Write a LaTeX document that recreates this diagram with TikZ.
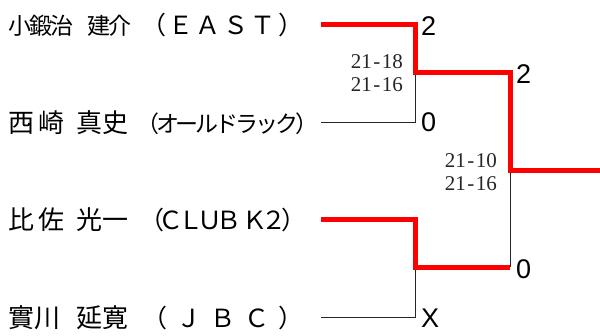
\documentclass[tikz,border=0pt]{standalone}
\usepackage{fontspec}
\setmainfont{Liberation Serif}
\newfontfamily\jp{Noto Sans CJK JP}
\newfontfamily\scorefont{Liberation Sans}
\newcommand\bigname{\fontsize{26}{28}\selectfont}
\newcommand\affl{\fontsize{25}{28}\selectfont}
\newcommand\affk{\fontsize{23}{28}\selectfont}
\begin{document}
\begin{tikzpicture}[x=1pt,y=-1pt,
  namestyle/.style={anchor=base west, inner sep=0pt, font=\jp\fontsize{23}{26}\selectfont},
  scorestyle/.style={anchor=base west, inner sep=0pt, font=\scorefont\fontsize{27}{30}\selectfont},
  setstyle/.style={anchor=base east, inner sep=0pt, font=\fontsize{21}{23}\selectfont, text=black!85},
  loser/.style={draw=black!85, line width=1pt},
  winner/.style={draw=red, line width=5pt, line join=miter}]
\useasboundingbox (0,0) rectangle (600,335);
\fill[white] (0,0) rectangle (600,335);

% players
\node[namestyle] (n1) at (8,34.5) {\hbox to 65pt{小\hss 鍛\hss 治}\kern14pt\hbox to 44pt{建\hss 介}\kern10pt\hbox to 162pt{\affl（\hss Ｅ\hss Ａ\hss Ｓ\hss Ｔ\hss ）}};
\node[namestyle] (n2) at (8,132) {\hbox to 56pt{\bigname 西\hss 崎}\kern12pt\hbox to 52pt{\bigname 真\hss 史}\kern8pt\hbox to 182pt{\affk（\hss オ\hss ー\hss ル\hss ド\hss ラ\hss ッ\hss ク\hss ）}};
\node[namestyle] (n3) at (8,229) {\hbox to 56pt{\bigname 比\hss 佐}\kern12pt\hbox to 52pt{\bigname 光\hss 一}\kern11pt\hbox to 167pt{\affl（\hss Ｃ\hss Ｌ\hss Ｕ\hss Ｂ\hss\kern6pt Ｋ\hss ２\hss ）}};
\node[namestyle] (n4) at (8,327) {\hbox to 52pt{\bigname 實\hss 川}\kern16pt\hbox to 52pt{\bigname 延\hss 寛}\kern14pt\hbox to 161pt{\affl（\hss Ｊ\hss Ｂ\hss Ｃ\hss ）}};

% bracket points
\coordinate (a1) at (321,24);
\coordinate (a2) at (321,122);
\coordinate (a3) at (321,219);
\coordinate (a4) at (321,317);
\coordinate (b1) at (415,24);
\coordinate (b2) at (415,122);
\coordinate (b3) at (415,219);
\coordinate (b4) at (415,317);
\coordinate (m1) at (415,72);
\coordinate (m2) at (415,267);
\coordinate (c1) at (510,72);
\coordinate (c2) at (510,267);
\coordinate (f) at (510,170);
\coordinate (out) at (600,170);

% losing lines
\draw[loser] (a2) -- (b2) -- (m1);
\draw[loser] (a4) -- (b4) -- (m2);
\draw[loser] (c2) -- (f);

% winning lines
\draw[winner] (a1) -- (b1) -- (m1) -- (c1) -- (f) -- (out);
\draw[winner] (a3) -- (b3) -- (m2) -- (c2);

% scores
\node[scorestyle] (s1) at (421,35) {2};
\node[scorestyle] (s2) at (421,131) {0};
\node[scorestyle] (s3) at (516,83.5) {2};
\node[scorestyle] (s4) at (516,278) {0};
\node[scorestyle] (s5) at (421,327) {X};

% set scores
\node[setstyle] (g1) at (403,68) {21\kern1.5pt-\kern1.5pt18};
\node[setstyle] (g2) at (403,91) {21\kern1.5pt-\kern1.5pt16};
\node[setstyle] (g3) at (497,167) {21\kern1.5pt-\kern1.5pt10};
\node[setstyle] (g4) at (497,190) {21\kern1.5pt-\kern1.5pt16};
\end{tikzpicture}
\end{document}
